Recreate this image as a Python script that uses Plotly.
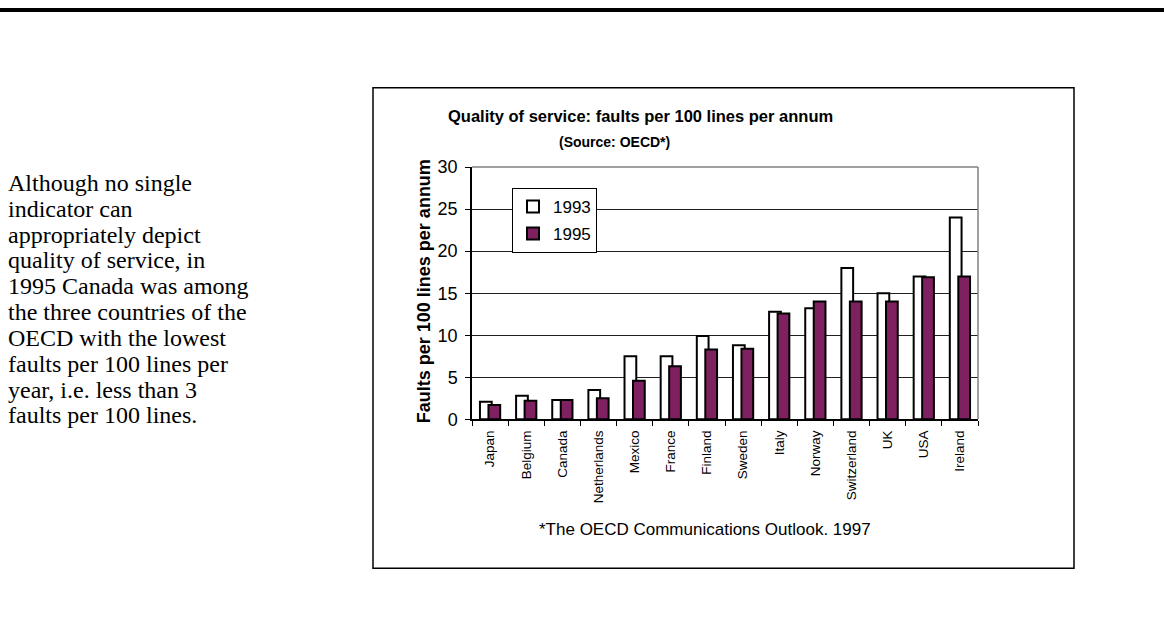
import plotly.graph_objects as go

# ---- data ----
countries = ["Japan", "Belgium", "Canada", "Netherlands", "Mexico", "France", "Finland",
             "Sweden", "Italy", "Norway", "Switzerland", "UK", "USA", "Ireland"]
faults_1993 = [2.1, 2.8, 2.3, 3.5, 7.5, 7.5, 9.9, 8.8, 12.8, 13.2, 18.0, 15.0, 17.0, 24.0]
faults_1995 = [1.7, 2.2, 2.3, 2.5, 4.6, 6.3, 8.3, 8.4, 12.6, 14.0, 14.0, 14.0, 16.9, 17.0]
y_tick_values = [0, 5, 10, 15, 20, 25, 30]
series_names = ["1993", "1995"]

title_text = "Quality of service: faults per 100 lines per annum"
subtitle_text = "(Source: OECD*)"
y_title_text = "Faults per 100 lines per annum"
footnote_text = "*The OECD Communications Outlook. 1997"
side_lines = [
    "Although no single",
    "indicator can",
    "appropriately depict",
    "quality of service, in",
    "1995 Canada was among",
    "the three countries of the",
    "OECD with the lowest",
    "faults per 100 lines per",
    "year, i.e. less than 3",
    "faults per 100 lines.",
]

# ---- layout helpers ----
W, H = 1164, 628
OY, SY = 7.8, 0.975   # observed vertical placement of the page in the photo


def px(x):
    return x / W


def py(y):
    v = 1 - ((y - OY) / SY) / H
    return min(v, 1.0)


PLOT_L, PLOT_R, PLOT_T, PLOT_B = 472, 978, 166, 420
SANS = "Liberation Sans, Arial, sans-serif"
SERIF = "Liberation Serif, Times New Roman, serif"
PURPLE = "#7f2060"

fig = go.Figure()
fig.add_trace(go.Bar(
    x=countries, y=faults_1993, name=series_names[0], legendgroup="a",
    marker=dict(color="white", line=dict(color="black", width=2)),
    width=0.325, offset=-0.28,
))
fig.add_trace(go.Bar(
    x=countries, y=faults_1995, name=series_names[1], legendgroup="b",
    marker=dict(color=PURPLE, line=dict(color="black", width=2)),
    width=0.325, offset=-0.045,
))

annotations = []
for i, line in enumerate(side_lines):
    annotations.append(dict(
        text=line, x=px(6), y=py(182 + 26 * i), xref="paper", yref="paper",
        xanchor="left", yanchor="middle", showarrow=False,
        font=dict(family=SERIF, size=24, color="black"),
    ))
annotations += [
    dict(text="<b>" + title_text + "</b>", x=px(640), y=py(115), xref="paper", yref="paper",
         xanchor="center", yanchor="middle", showarrow=False,
         font=dict(family=SANS, size=16.5, color="black")),
    dict(text="<b>" + subtitle_text + "</b>", x=px(614), y=py(141), xref="paper", yref="paper",
         xanchor="center", yanchor="middle", showarrow=False,
         font=dict(family=SANS, size=14, color="black")),
    dict(text="<b>" + y_title_text + "</b>", x=px(424), y=py(291), xref="paper", yref="paper",
         xanchor="center", yanchor="middle", showarrow=False, textangle=-90,
         font=dict(family=SANS, size=18, color="black")),
    dict(text=footnote_text, x=px(705), y=py(531), xref="paper", yref="paper",
         xanchor="center", yanchor="middle", showarrow=False,
         font=dict(family=SANS, size=17, color="black")),
]

shapes = [
    dict(type="line", xref="paper", yref="paper", x0=0, x1=1, y0=1.0, y1=1.0,
         line=dict(color="black", width=4)),
    dict(type="rect", xref="paper", yref="paper", x0=px(373), x1=px(1074), y0=py(86), y1=py(570),
         line=dict(color="black", width=1.5), layer="below"),
    dict(type="line", xref="paper", yref="paper", x0=px(PLOT_L), x1=px(PLOT_R), y0=py(PLOT_T), y1=py(PLOT_T),
         line=dict(color="#808080", width=1.5), layer="above"),
    dict(type="line", xref="paper", yref="paper", x0=px(PLOT_R), x1=px(PLOT_R), y0=py(PLOT_T), y1=py(PLOT_B),
         line=dict(color="#808080", width=1.5), layer="above"),
]

fig.update_layout(
    width=W, height=H,
    margin=dict(l=0, r=0, t=0, b=0),
    paper_bgcolor="white", plot_bgcolor="white",
    barmode="overlay",
    showlegend=True,
    legend=dict(
        x=px(512), y=py(187), xanchor="left", yanchor="top",
        bgcolor="white", bordercolor="black", borderwidth=1,
        font=dict(family=SANS, size=17, color="black"),
        itemwidth=30, tracegroupgap=2,
    ),
    xaxis=dict(
        domain=[px(PLOT_L), px(PLOT_R)],
        type="category",
        showline=True, linecolor="black", linewidth=1.5,
        ticks="outside", tickson="boundaries", ticklen=5, tickcolor="black", tickwidth=1,
        tickangle=-90, tickfont=dict(family=SANS, size=13.5, color="black"),
        ticklabelstandoff=4,
        showgrid=False, fixedrange=True,
    ),
    yaxis=dict(
        domain=[py(PLOT_B), py(PLOT_T)],
        range=[0, 30], tickvals=y_tick_values,
        showline=True, linecolor="black", linewidth=1.5,
        ticks="outside", ticklen=5, tickcolor="black", tickwidth=1,
        tickfont=dict(family=SANS, size=18, color="black"),
        ticklabelstandoff=4,
        showgrid=True, gridcolor="#202020", gridwidth=1,
        zeroline=False, fixedrange=True,
    ),
    annotations=annotations,
    shapes=shapes,
)

fig.write_html("out.html")
